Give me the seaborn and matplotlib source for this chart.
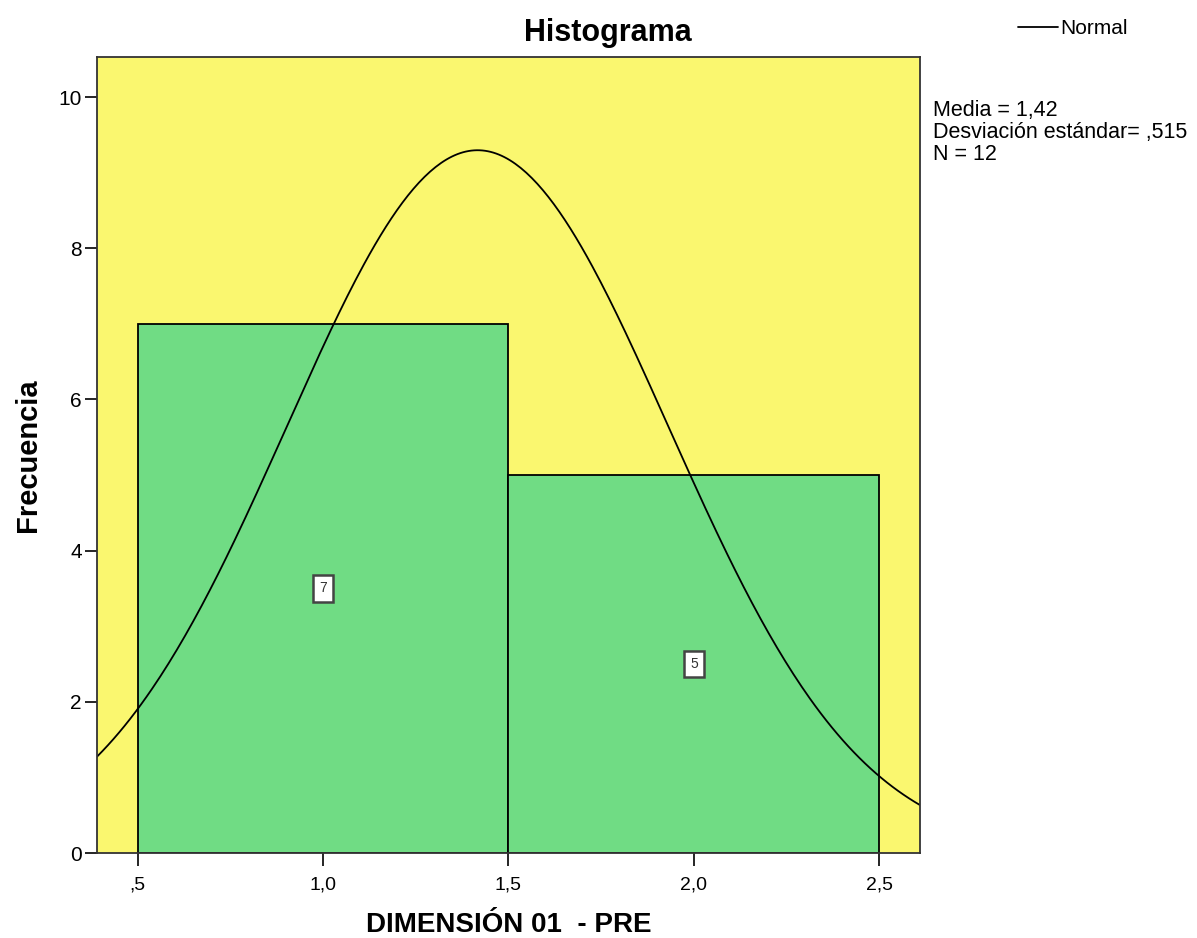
import numpy as np
import pandas as pd
import seaborn as sns
import matplotlib.pyplot as plt

# datos: 7 casos con valor 1 y 5 casos con valor 2
valores = [1, 1, 1, 1, 1, 1, 1, 2, 2, 2, 2, 2]
bordes = [0.5, 1.5, 2.5]
xticks = [0.5, 1.0, 1.5, 2.0, 2.5]
xtick_labels = [",5", "1,0", "1,5", "2,0", "2,5"]
yticks = [0, 2, 4, 6, 8, 10]

amarillo = "#FAF76F"
verde = "#70DC84"

sns.set_style("white")
plt.rcParams['font.family'] = ['Liberation Sans', 'DejaVu Sans']
plt.rcParams['text.color'] = 'black'
plt.rcParams['axes.labelcolor'] = 'black'

df = pd.DataFrame({"valor": valores})
media = df["valor"].mean()
desv = df["valor"].std()
n = len(df)

fig = plt.figure(figsize=(11.97, 9.38), dpi=100)
ax = fig.add_axes([0.081, 0.0906, 0.6876, 0.8486])
ax.set_facecolor(amarillo)

sns.histplot(data=df, x="valor", bins=bordes, color=verde, alpha=1,
             edgecolor="black", linewidth=1.3, ax=ax)

# curva normal ajustada (escala de frecuencias, ancho de clase 1)
xs = np.linspace(0.39, 2.61, 300)
ys = n * 1.0 / (desv * np.sqrt(2 * np.pi)) * np.exp(-0.5 * ((xs - media) / desv) ** 2)
sns.lineplot(x=xs, y=ys, color="black", linewidth=1.3, ax=ax, label="Normal")

# etiquetas de frecuencia en cada barra
for p in ax.patches:
    h = p.get_height()
    cx = p.get_x() + p.get_width() / 2
    ax.text(cx, h / 2, str(int(h)), ha="center", va="center", fontsize=10,
            color="#333333",
            bbox=dict(boxstyle="square,pad=0.45", fc="white", ec="#444444", lw=1.8))

ax.set_xlim(0.39, 2.61)
ax.set_ylim(0, 10.53)
ax.set_xticks(xticks)
ax.set_xticklabels(xtick_labels)
ax.set_yticks(yticks)
ax.tick_params(axis="both", which="major", length=9, width=1.2,
               direction="out", bottom=True, left=True, colors="black")
ax.tick_params(axis="x", labelsize=14, pad=8)
ax.tick_params(axis="y", labelsize=15, pad=2)
for s in ax.spines.values():
    s.set_visible(True)
    s.set_color("#333333")
    s.set_linewidth(1.3)

ax.set_xlabel("DIMENSIÓN 01  - PRE", fontsize=20, fontweight="bold", labelpad=13)
ax.set_ylabel("Frecuencia", fontsize=21, fontweight="bold", labelpad=12)

fig.text(608 / 1197, 1 - 33 / 938, "Histograma", ha="center", va="center",
         fontsize=22, fontweight="bold")

leg = ax.legend(loc="center left", bbox_to_anchor=(1008 / 1197, 1 - 29 / 938),
                bbox_transform=fig.transFigure, frameon=False, fontsize=15,
                handlelength=1.9, handletextpad=0.1, borderpad=0)

media_txt = f"{media:.2f}".replace(".", ",")
desv_txt = f"{desv:.3f}".replace(".", ",").lstrip("0")
fig.text(933 / 1197, 1 - 100 / 938,
         f"Media = {media_txt}\nDesviación estándar= {desv_txt}\nN = {n}",
         ha="left", va="top", fontsize=15.5, linespacing=1.05)

fig.savefig("out.png", dpi=100)
